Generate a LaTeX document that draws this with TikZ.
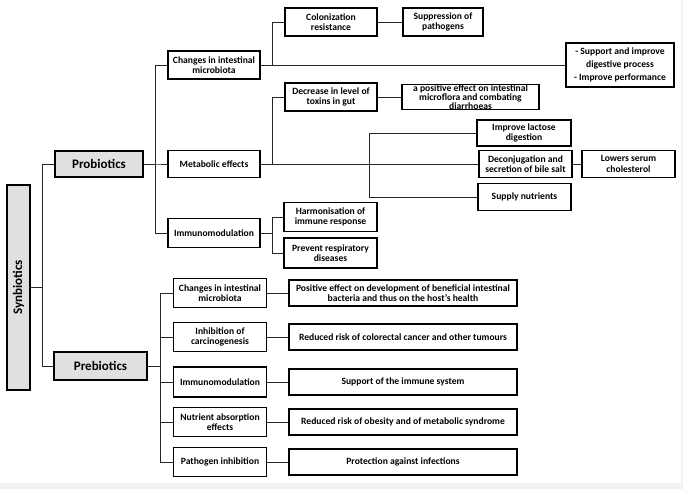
\documentclass[tikz,border=0pt]{standalone}
\usepackage{fontspec}
\setmainfont{Carlito}
\usetikzlibrary{shapes}
\tikzstyle{box} = [draw, line width=1.2pt, fill=white, align=center, inner sep=1pt, font=\bfseries\fontsize{9.6}{10.6}\selectfont]
\tikzstyle{group} = [box, fill=black!12, font=\bfseries\fontsize{13}{15}\selectfont]
\tikzstyle{link} = [draw, line width=0.9pt, black!85]
\tikzset{wh/.style 2 args={minimum width=#1, minimum height=#2}}

\begin{document}
\begin{tikzpicture}[x=1pt, y=-1pt]
    % Background.
    \fill [black!5] (0,0) rectangle (683,489);
    \fill [white] (0,0) rectangle (681,483);
    % Draw the main groups.
    \node [group, rotate=90, wh={205pt}{23pt}] (syn) at (18.5,287.5) {Synbiotics};
    \node [group, wh={88pt}{26pt}] (pro) at (99,164) {Probiotics};
    \node [group, wh={93pt}{28pt}] (pre) at (100.5,366) {Prebiotics};
    % Probiotics effects.
    \node [box, wh={92pt}{28pt}] (cim) at (214,65) {Changes in intestinal\\microbiota};
    \node [box, wh={92pt}{27pt}] (met) at (214,164) {Metabolic effects};
    \node [box, wh={92pt}{29pt}] (imm) at (214,233) {Immunomodulation};
    \node [box, wh={92pt}{28pt}] (col) at (331,22) {Colonization\\resistance};
    \node [box, wh={80pt}{28pt}] (supp) at (443,22) {Suppression of\\pathogens};
    \node [box, wh={108pt}{44pt}, font=\bfseries\fontsize{9.6}{13}\selectfont] (dig) at (620,65) {- Support and improve\\digestive process\\- Improve performance};
    \node [box, wh={92pt}{28pt}] (dec) at (331,97) {Decrease in level of\\toxins in gut};
    \node [box, wh={137pt}{24pt}, inner sep=0pt, font=\bfseries\fontsize{9.6}{9}\selectfont] (pos) at (470.5,97) {a positive effect on intestinal\\microflora and combating\\diarrhoeas};
    \node [box, wh={94pt}{26pt}] (lac) at (524,133) {Improve lactose\\digestion};
    \node [box, wh={93pt}{27pt}] (bile) at (525.5,164) {Deconjugation and\\secretion of bile salt};
    \node [box, wh={93pt}{27pt}] (chol) at (628.5,164) {Lowers serum\\cholesterol};
    \node [box, wh={93pt}{27pt}] (nut) at (524.5,197) {Supply nutrients};
    \node [box, wh={93pt}{29pt}] (harm) at (330.5,217) {Harmonisation of\\immune response};
    \node [box, wh={93pt}{30pt}] (resp) at (330.5,253) {Prevent respiratory\\diseases};
    % Prebiotics effects.
    \node [box, wh={93pt}{29pt}] (pcim) at (220,293) {Changes in intestinal\\microbiota};
    \node [box, wh={93pt}{29pt}] (pinh) at (220,337) {Inhibition of\\carcinogenesis};
    \node [box, wh={93pt}{30pt}] (pimm) at (220,382) {Immunomodulation};
    \node [box, wh={93pt}{29pt}] (pnut) at (220,422) {Nutrient absorption\\effects};
    \node [box, wh={93pt}{29pt}] (ppat) at (220,462) {Pathogen inhibition};
    \node [box, wh={228pt}{26pt}] (rpos) at (403,293) {Positive effect on development of beneficial intestinal\\bacteria and thus on the host's health};
    \node [box, wh={228pt}{26pt}] (rcan) at (403,337) {Reduced risk of colorectal cancer and other tumours};
    \node [box, wh={228pt}{26pt}] (rimm) at (403,382) {Support of the immune system};
    \node [box, wh={228pt}{26pt}] (robe) at (403,422) {Reduced risk of obesity and of metabolic syndrome};
    \node [box, wh={228pt}{26pt}] (rinf) at (403,462) {Protection against infections};
    \coordinate (mj) at (369,164);
    % Synbiotics -> Probiotics, Prebiotics.
    \path [link] (syn.south) -- ++(12,0) |- (pro.west);
    \path [link] (syn.south) -- ++(12,0) |- (pre.west);
    % Probiotics -> effects.
    \foreach \n in {cim, met, imm}
        \path [link] (pro.east) -- ++(12,0) |- (\n.west);
    % Changes in intestinal microbiota.
    \path [link] (cim.east) -- ++(12,0) |- (col.west);
    \path [link] (cim.east) -- (dig.west);
    \path [link] (col) -- (supp);
    % Metabolic effects.
    \path [link] (met.east) -- ++(12,0) |- (dec.west);
    \path [link] (dec) -- (pos);
    \path [link] (met.east) -- (bile.west);
    \path [link] (mj) |- (lac.west);
    \path [link] (mj) |- (nut.west);
    \path [link] (bile) -- (chol);
    % Immunomodulation.
    \path [link] (imm.east) -- ++(12,0) |- (harm.west);
    \path [link] (imm.east) -- ++(12,0) |- (resp.west);
    % Prebiotics -> effects -> outcomes.
    \foreach \n/\m in {pcim/rpos, pinh/rcan, pimm/rimm, pnut/robe, ppat/rinf} {
        \path [link] (pre.east) -- ++(13,0) |- (\n.west);
        \path [link] (\n) -- (\m);
    }
\end{tikzpicture}
\end{document}
